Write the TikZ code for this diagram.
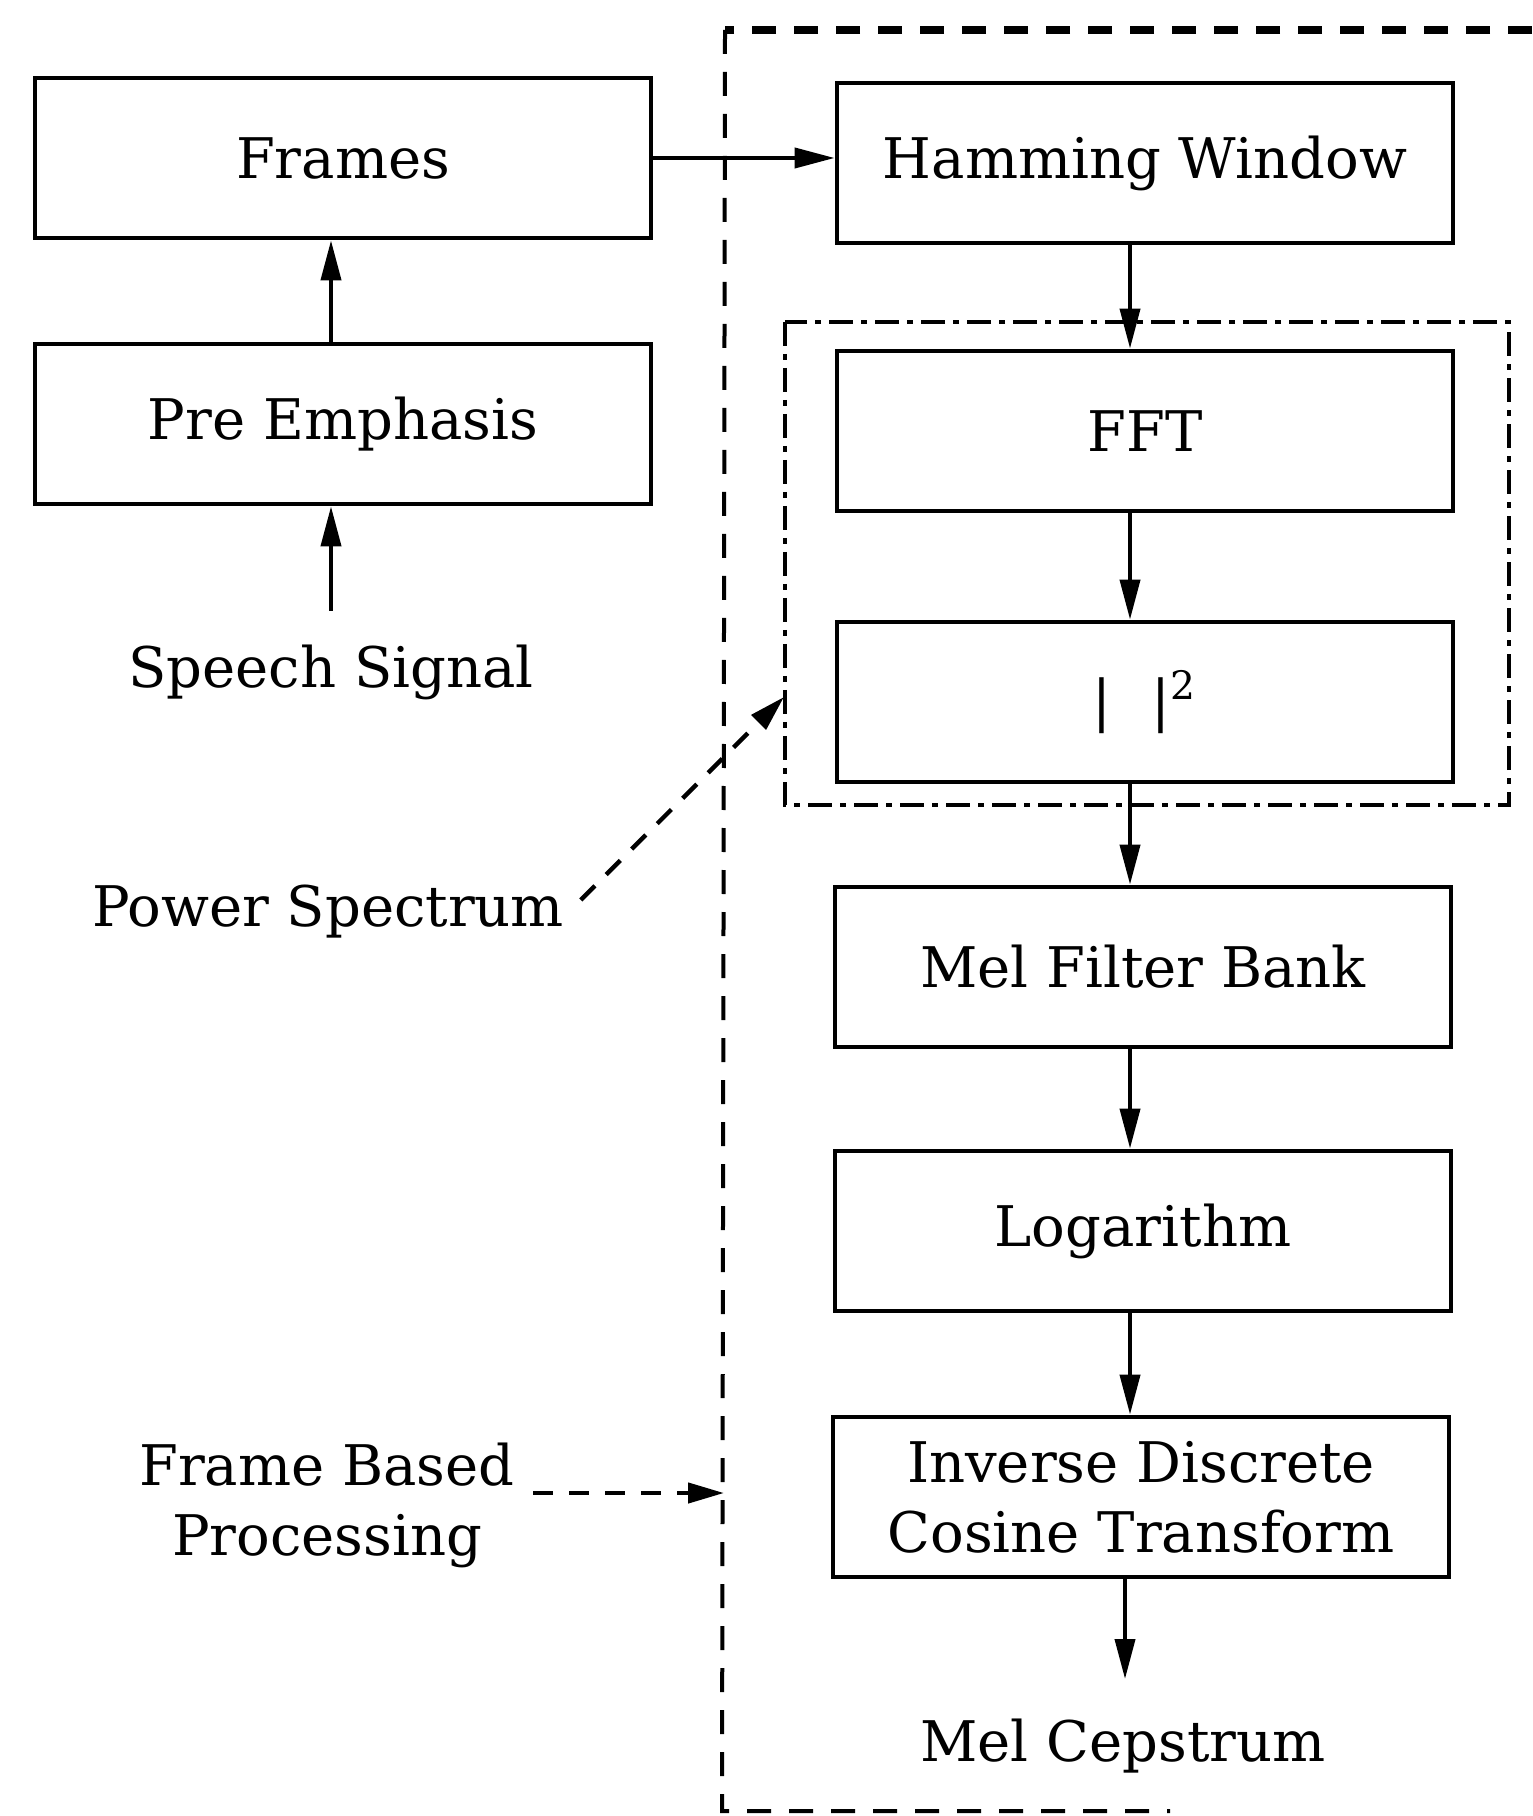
\documentclass[tikz,border=0pt]{standalone}
\usepackage{fontspec}
\setmainfont{DejaVu Serif}
\usetikzlibrary{arrows.meta,calc}
\tikzset{
  blk/.style={draw, line width=1.2pt, minimum width=154pt, minimum height=40pt,
    inner sep=0pt, font=\fontsize{14}{17.5}\selectfont, align=center},
  lbl/.style={font=\fontsize{14}{17.5}\selectfont, align=center, inner sep=1pt},
  arr/.style={line width=1pt, -{Triangle[length=10pt,width=5pt]}},
  dasharr/.style={line width=1.1pt, dash pattern=on 5pt off 4pt,
    -{Triangle[length=9pt,width=5pt]}},
}
\begin{document}
\begin{tikzpicture}[x=0.25pt,y=-0.25pt]
    \useasboundingbox (0,0) rectangle (1532,1816);
    % left column
    \node[blk] (frames) at (343,158) {Frames};
    \node[blk] (preemph) at (343,424) {Pre Emphasis};
    \node[lbl] (speech) at (331,672) {Speech Signal};
    \node[lbl] (power) at (328,912) {Power Spectrum};
    \node[lbl] (fbp) at (327,1505) {Frame Based\\Processing};
    % right column
    \node[blk] (hamming) at (1145,163) {Hamming Window};
    \node[blk] (fft) at (1145,431) {FFT};
    \node[blk] (sq) at (1145,702) {{|}\hspace{10pt}{|}\textsuperscript{2}};
    \node[blk] (mel) at (1143,967) {Mel Filter Bank};
    \node[blk] (logb) at (1143,1231) {Logarithm};
    \node[blk] (idct) at (1141,1497) {Inverse Discrete\\Cosine Transform};
    \node[lbl] (cep) at (1123,1746) {Mel Cepstrum};
    \coordinate (sigtop) at (331,611);
    \coordinate (spine) at (1130,0);
    \coordinate (cepin) at (1125,1679);
    \coordinate (psin) at (784,697);
    \coordinate (fbpin) at (724,1493);
    % frame based processing box
    \draw[line width=1.8pt, dash pattern=on 6pt off 4.5pt] (1532,30) -- (725,30);
    \draw[line width=1pt, dash pattern=on 6pt off 4.5pt] (725,30) -- (722,1811) -- (1170,1811);
    % power spectrum box
    \draw[line width=0.9pt, dash pattern=on 6pt off 2pt on 1.5pt off 2pt] (785,322) rectangle (1509,805);
    % connectors
    \draw[arr] (sigtop) -- (sigtop |- preemph.south);
    \draw[arr] (sigtop |- preemph.north) -- (sigtop |- frames.south);
    \draw[arr] (frames.east) -- (frames.east -| hamming.west);
    \draw[arr] (spine |- hamming.south) -- (spine |- fft.north);
    \draw[arr] (spine |- fft.south) -- (spine |- sq.north);
    \draw[arr] (spine |- sq.south) -- (spine |- mel.north);
    \draw[arr] (spine |- mel.south) -- (spine |- logb.north);
    \draw[arr] (spine |- logb.south) -- (spine |- idct.north);
    \draw[arr] (cepin |- idct.south) -- (cepin);
    \draw[dasharr] ([xshift=3pt,yshift=3pt]power.east) -- (psin);
    \draw[dasharr] ($(fbp.east |- fbpin)+(14,0)$) -- (fbpin);
\end{tikzpicture}
\end{document}
